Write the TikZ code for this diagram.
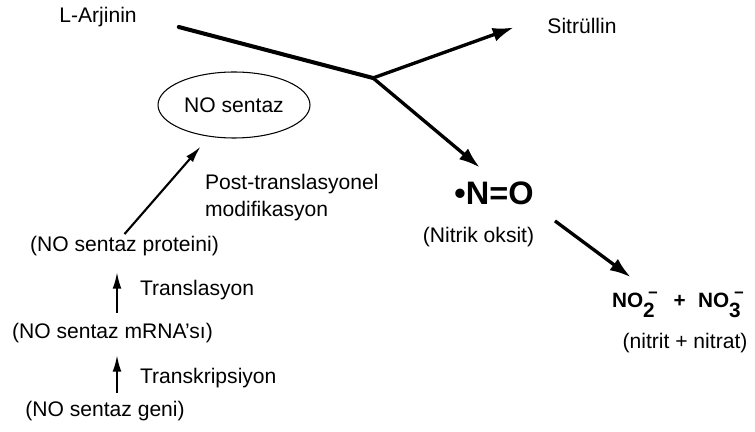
\documentclass[tikz,border=0pt]{standalone}
\usepackage{fontspec}
\setmainfont{Liberation Sans}
\usepackage{tikz}
\usetikzlibrary{arrows.meta,shapes.geometric}
\tikzset{font=\fontsize{12}{15.4}\selectfont}
\tikzstyle{lbl}=[inner sep=1pt]
\tikzstyle{oval}=[ellipse,draw,line width=0.6pt,minimum width=3.04cm,minimum height=1.32cm,inner sep=0pt]
\tikzstyle{big}=[->,>={Latex[length=12pt,width=8pt]},line width=1.9pt]
\tikzstyle{small}=[->,>={Latex[length=9.5pt,width=5pt]},line width=1.2pt]
\newcommand{\chg}[1]{\rlap{\raisebox{-6pt}{#1}}\hspace{2.8pt}\raisebox{4.8pt}{\fontsize{9.5}{9.5}\selectfont −}}

\begin{document}
\begin{tikzpicture}[x=0.2cm,y=-0.2cm]
\useasboundingbox (0,0) rectangle (75.5,43.1);
\node[lbl] (A) at (9.8,1.7) {L-Arjinin};
\node[lbl] (B) at (58.2,2.6) {Sitrüllin};
\node[oval] (C) at (23.4,10.5) {NO sentaz};
\node[lbl] (D) at (49.4,19.3) {\fontsize{18.5}{20}\selectfont\bfseries •N=O};
\node[lbl] (E) at (47.85,23.75) {(Nitrik oksit)};
\node[lbl,anchor=base west,font=\fontsize{11.8}{13}\selectfont\bfseries] (H) at (61.0,30.7)
  {NO\chg{2}\hspace{9pt}+\hspace{7pt}NO\chg{3}};
\node[lbl] (I) at (68.5,34.3) {(nitrit + nitrat)};
\node[lbl,anchor=west,align=left] (P) at (20.3,19.8) {Post-translasyonel\\modifikasyon};
\node[lbl] (F) at (12.45,24.6) {(NO sentaz proteini)};
\node[lbl,anchor=west] (K) at (13.8,29.0) {Translasyon};
\node[lbl] (M) at (11.25,33.3) {(NO sentaz mRNA'sı)};
\node[lbl,anchor=west] (L) at (13.8,37.8) {Transkripsiyon};
\node[lbl] (G) at (10.5,41.1) {(NO sentaz geni)};
\coordinate (J) at (37.3,7.8);
% substrate line and the two products
\draw[line width=2.3pt,line cap=round] ([shift={(4,1)}]A.east) -- (J);
\path[big]
(J) edge[shorten >=6.7mm] (B.north west)
(J) edge[shorten >=3.7mm] (D.north)
(D.south east) edge[shorten <=4.8mm,shorten >=4.3mm] ([xshift=7.6mm]H.north west);
% gene to enzyme
\path[small]
([xshift=0.9mm]G.north -| M.north) edge[shorten <=1.2mm,shorten >=2mm] ([xshift=0.9mm]M.south)
([xshift=0.9mm]M.north) edge[shorten <=1.7mm,shorten >=2.8mm] ([xshift=0.9mm]M.north |- F.south)
(F.north) edge[shorten >=2.6mm] (C.232);
\end{tikzpicture}
\end{document}
